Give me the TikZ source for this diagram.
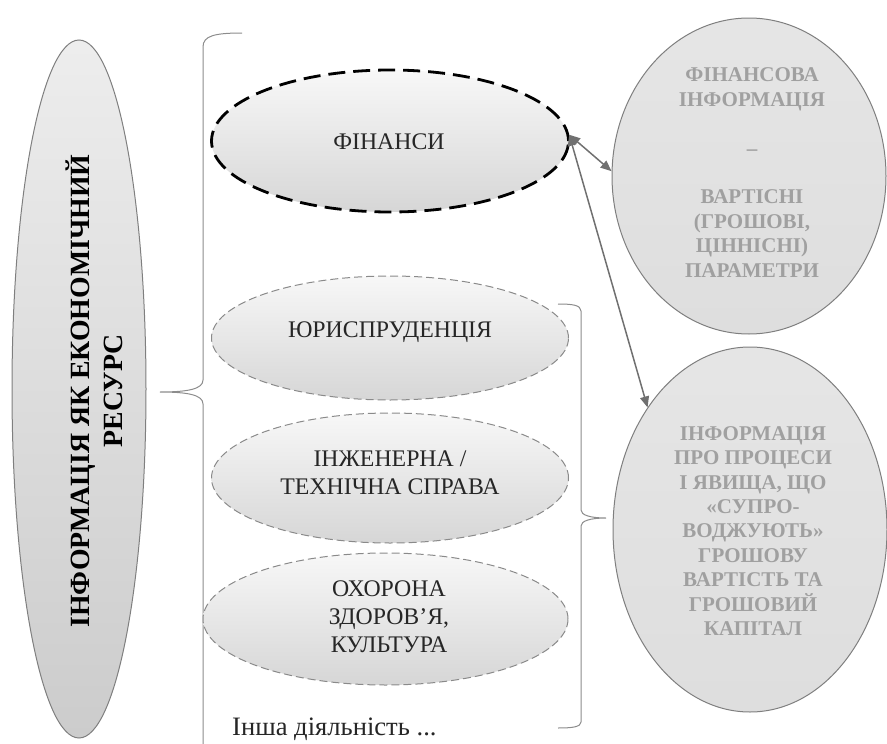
\documentclass[tikz,border=0pt]{standalone}
\usepackage{fontspec}
\setmainfont{Liberation Serif}
\usetikzlibrary{shapes.geometric,arrows.meta}

\definecolor{edgegrey}{HTML}{7F7F7F}
\definecolor{dashgrey}{HTML}{8A8A8A}
\definecolor{bracegrey}{HTML}{8C8C8C}
\definecolor{arrowgrey}{HTML}{707070}
\definecolor{textdark}{HTML}{262626}
\definecolor{textpale}{HTML}{A0A0A0}

\begin{document}
\begin{tikzpicture}[x=1pt,y=-1pt,
  resource/.style={ellipse, draw=edgegrey, line width=1pt, inner sep=0pt,
    top color=white!93!black, bottom color=white!80!black},
  infoell/.style={ellipse, draw=edgegrey, line width=1pt, inner sep=0pt,
    top color=white!90!black, middle color=white!84!black, bottom color=white!87!black},
  fieldell/.style={ellipse, draw=dashgrey, line width=1pt, inner sep=0pt,
    dash pattern=on 8pt off 4pt,
    top color=white!97!black, middle color=white!95!black, bottom color=white!84!black},
  finell/.style={fieldell, draw=black, line width=2.8pt, dash pattern=on 17pt off 8pt},
  fieldtxt/.style={font=\fontsize{23.8}{27.8}\selectfont, text=textdark, align=center, inner sep=0pt},
  infotxt/.style={font=\bfseries\fontsize{21}{24.4}\selectfont, text=textpale, align=center, inner sep=0pt},
  titletxt/.style={font=\bfseries\fontsize{27.8}{33}\selectfont, text=black, align=center, inner sep=0pt, rotate=90},
  brace/.style={draw=bracegrey, line width=1pt},
  link/.style={draw=arrowgrey, line width=1.5pt,
    {Triangle[length=11pt,width=9pt]}-{Triangle[length=11pt,width=9pt]}}
]
\useasboundingbox (0,0) rectangle (887,744);

% resource ellipse on the left
\node[resource, minimum width=134pt, minimum height=698pt] (res) at (79,389) {};
\node[titletxt] (restxt) at (94,391) {ІНФОРМАЦІЯ ЯК ЕКОНОМІЧНИЙ\\РЕСУРС};

% big brace opening to the fields of activity
\draw[brace] (242,33) .. controls (214,33) and (203,36) .. (203,47)
  -- (203,380) .. controls (203,389) and (188,392) .. (160,392)
  .. controls (188,392) and (203,395) .. (203,404) -- (203,744);

% fields of activity
\node[finell, minimum width=357pt, minimum height=142pt] (fin) at (390,141) {};
\node[fieldtxt] (fintxt) at (389,141.5) {ФІНАНСИ};

\node[fieldell, minimum width=357pt, minimum height=124pt] (jur) at (390,338) {};
\node[fieldtxt, anchor=base] (jurtxt) at (390,337.5) {ЮРИСПРУДЕНЦІЯ};

\node[fieldell, minimum width=357pt, minimum height=130pt] (eng) at (390,478) {};
\node[fieldtxt] (engtxt) at (390,473) {ІНЖЕНЕРНА /\\ТЕХНІЧНА СПРАВА};

\node[fieldell, minimum width=365pt, minimum height=132pt] (med) at (385.5,619) {};
\node[fieldtxt] (medtxt) at (389,617) {ОХОРОНА\\ЗДОРОВ’Я,\\КУЛЬТУРА};

\node[fieldtxt, font=\fontsize{26.6}{30}\selectfont, anchor=base west] (other) at (232,735) {Інша діяльність ...};

% small brace grouping the non-financial fields
\draw[brace] (558,304) .. controls (572,304) and (581,305) .. (581,311)
  -- (581,510) .. controls (581,515) and (590,518) .. (606,518)
  .. controls (590,518) and (581,521) .. (581,526) -- (581,722)
  .. controls (581,727) and (572,728) .. (558,728);

% kinds of information
\node[infoell, minimum width=274pt, minimum height=316pt] (finfo) at (749,176) {};
\node[infotxt] (finfotxt) at (752,172.5) {ФІНАНСОВА\\ІНФОРМАЦІЯ\\\mbox{}\\–\\\mbox{}\\ВАРТІСНІ\\(ГРОШОВІ,\\ЦІННІСНІ)\\ПАРАМЕТРИ};

\node[infoell, minimum width=274pt, minimum height=365pt] (pinfo) at (750,529.5) {};
\node[infotxt] (pinfotxt) at (753,531) {ІНФОРМАЦІЯ\\ПРО ПРОЦЕСИ\\І ЯВИЩА, ЩО\\«СУПРО-\\ВОДЖУЮТЬ»\\ГРОШОВУ\\ВАРТІСТЬ ТА\\ГРОШОВИЙ\\КАПІТАЛ};

% links from finance to both kinds of information
\draw[link] (fin.2) -- (finfo.178);
\draw[link] (fin.2) -- (pinfo.130);
\end{tikzpicture}
\end{document}
